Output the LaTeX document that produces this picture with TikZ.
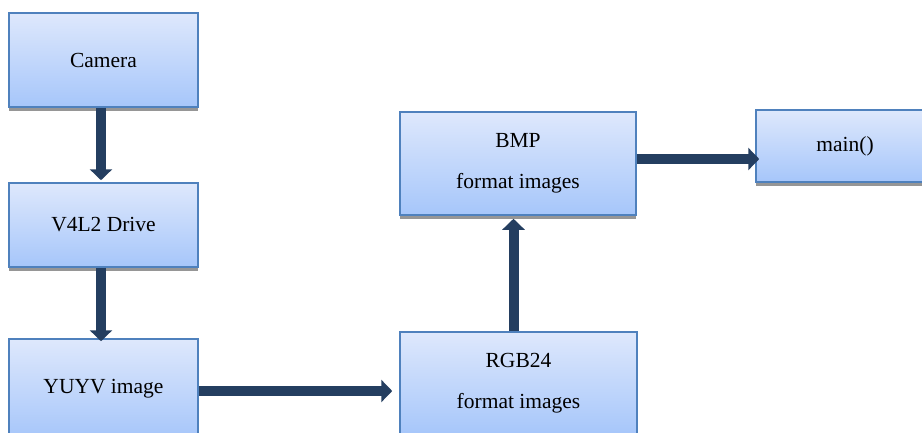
\documentclass[tikz,border=0pt]{standalone}
\usepackage{fontspec}
\setmainfont{Liberation Serif}
\usetikzlibrary{arrows.meta,shadows}
\definecolor{bfillA}{RGB}{222,232,252}
\definecolor{bfillB}{RGB}{166,198,250}
\definecolor{bdraw}{RGB}{79,129,189}
\definecolor{arrcol}{RGB}{36,62,96}
\definecolor{shadcol}{RGB}{150,150,150}
\tikzset{
  blockbox/.style={draw=bdraw, line width=1.5pt, top color=bfillA, bottom color=bfillB,
    align=center, inner sep=0pt, font=\fontsize{21.5}{41}\selectfont,
    drop shadow={shadow xshift=0pt, shadow yshift=-4pt, fill=shadcol, opacity=1}},
  flowarrow/.style={draw=arrcol, line width=10pt, -{Triangle[width=22pt,length=11pt]}},
}
\begin{document}
\begin{tikzpicture}[x=1pt,y=-1pt]
\useasboundingbox (0,0) rectangle (922,432);
\clip (0,0) rectangle (922,432);
\node[blockbox, minimum width=189pt, minimum height=94pt] (cam) at (103.5,60) {Camera};
\node[blockbox, minimum width=189pt, minimum height=84pt] (v4l) at (103.5,225) {V4L2 Drive};
\node[blockbox, minimum width=189pt, minimum height=100pt] (yuyv) at (103.5,389) {YUYV image};
\node[blockbox, minimum width=237pt, minimum height=103pt] (rgb) at (518.5,383.5) {RGB24\\format images};
\node[blockbox, minimum width=236pt, minimum height=103pt] (bmp) at (518,163.5) {BMP\\format images};
\node[blockbox, minimum width=178pt, minimum height=72pt] (main) at (845,146) {main()};
\coordinate (ya) at (0,391);
\coordinate (yb) at (0,159);
\coordinate (xa) at (513.5,0);
\draw[flowarrow, shorten >=2pt] ([xshift=-2.5pt]cam.south) -- ([xshift=-2.5pt]v4l.north);
\draw[flowarrow, shorten >=-3pt] ([xshift=-2.5pt]v4l.south) -- ([xshift=-2.5pt]yuyv.north);
\draw[flowarrow, shorten >=7pt] (yuyv.east |- ya) -- (rgb.west |- ya);
\draw[flowarrow, shorten >=3pt] (xa |- rgb.north) -- (xa |- bmp.south);
\draw[flowarrow, shorten >=-4pt] (bmp.east |- yb) -- (main.west |- yb);
\end{tikzpicture}
\end{document}
